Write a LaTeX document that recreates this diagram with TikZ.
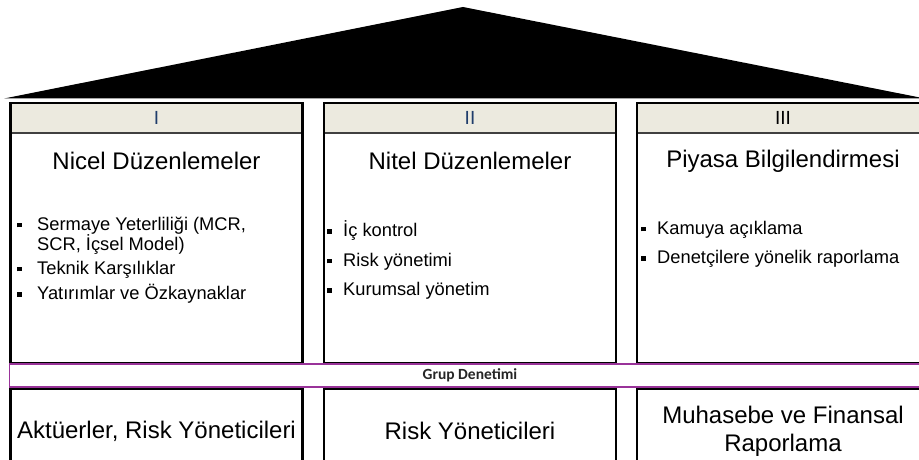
\documentclass[tikz,border=0pt]{standalone}
\usepackage{fontspec}
\setmainfont{Liberation Sans}
\newfontfamily\calibri{Carlito}
\usetikzlibrary{positioning}
\definecolor{headfill}{HTML}{ECEADF}
\definecolor{headblue}{HTML}{1F3D6B}
\definecolor{barpurple}{HTML}{993399}
\newcommand\blt[1][16pt]{\makebox[#1][l]{\rule[2.6pt]{4.5pt}{4.5pt}}}
\begin{document}
\begin{tikzpicture}[x=1pt,y=-1pt,
  pillar/.style={draw,line width=2.5pt,minimum width=292pt,minimum height=260pt,inner sep=0pt},
  head/.style={draw=black!75,line width=1.2pt,fill=headfill,minimum width=292pt,minimum height=30pt,inner sep=0pt,font=\fontsize{19}{19}\selectfont},
  title/.style={font=\fontsize{24}{24}\selectfont},
  items/.style={anchor=base west,inner sep=0pt,align=left,font=\fontsize{18.3}{20.5}\selectfont},
  base/.style={draw,line width=2.5pt,minimum width=292pt,minimum height=84pt,inner sep=0pt,align=center,font=\fontsize{24}{28}\selectfont}]
\useasboundingbox (0,0) rectangle (919,460);
\clip (0,0) rectangle (919,460);
% roof
\fill (4,98.5) -- (463,7) -- (925,98.5) -- cycle;
% pillars
\foreach \n/\x/\r/\c in {1/156.5/I/headblue,2/470/II/headblue,3/783/III/black} {
  \node[head,text=\c] (h\n) at (\x,118) {\r};
  \node[pillar] (p\n) at (\x,233) {};
  \node[base] (b\n) at (\x,431) {};
}
\node[title] (t1) at (156.5,161) {Nicel Düzenlemeler};
\node[title] (t2) at (470,161) {Nitel Düzenlemeler};
\node[title] (t3) at (783,161) {Piyasa Bilgilendirmesi};
% anchor is the baseline of the last line
\node[items] (i1) at (17,299.5) {\blt[20pt]Sermaye Yeterliliği (MCR,\\
  \hspace*{20pt}SCR, İçsel Model)\\[3pt]
  \blt[20pt]Teknik Karşılıklar\\[5pt]
  \blt[20pt]Yatırımlar ve Özkaynaklar};
\node[items] (i2) at (327,295.5) {\blt İç kontrol\\[9pt] \blt Risk yönetimi\\[9pt] \blt Kurumsal yönetim};
\node[items] (i3) at (641,263.5) {\blt Kamuya açıklama\\[9pt] \blt Denetçilere yönelik raporlama};
% group supervision bar
\node[draw=barpurple,line width=1.2pt,fill=white,minimum width=921pt,minimum height=23pt,inner sep=0pt,
  font=\calibri\bfseries\fontsize{15.5}{15.5}\selectfont,text=black!85] (grup) at (470,375.5) {Grup Denetimi};
% bottom row
\node (a1) at (b1) {\fontsize{24}{28}\selectfont Aktüerler, Risk Yöneticileri};
\node (a2) at (b2) {\fontsize{24}{28}\selectfont Risk Yöneticileri};
\node[align=center,font=\fontsize{24}{28}\selectfont] (a3) at (b3) {Muhasebe ve Finansal\\Raporlama};
\end{tikzpicture}
\end{document}
